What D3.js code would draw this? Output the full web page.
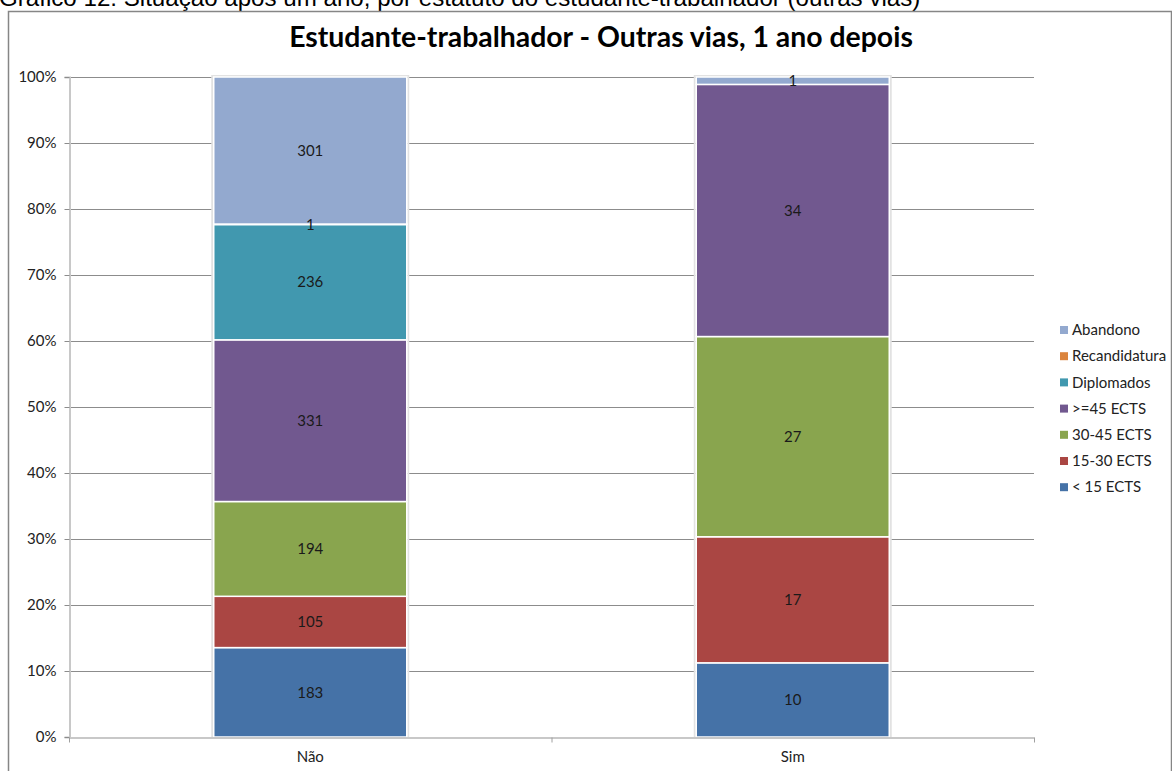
<!DOCTYPE html>
<html>
<head>
<meta charset="utf-8">
<script src="https://cdn.jsdelivr.net/npm/d3@7"></script>
<style>
  html, body { margin: 0; padding: 0; background: #fff; overflow: hidden; }
  svg { display: block; }
</style>
</head>
<body>
<div id="chart"></div>
<script>
// categories (x axis)
var categories = ['Não', 'Sim'];

// series, bottom to top of the stack
var seriesNames = ['< 15 ECTS', '15-30 ECTS', '30-45 ECTS', '>=45 ECTS', 'Diplomados', 'Recandidatura', 'Abandono'];
var seriesColors = ['#4572A7', '#AA4643', '#89A54E', '#71588F', '#4198AF', '#DB843D', '#93A9CF'];

// counts per series, one value per category
var lt15 = [183, 10];
var e15to30 = [105, 17];
var e30to45 = [194, 27];
var ge45 = [331, 34];
var diplomados = [236, 0];
var recandidatura = [1, 0];
var abandono = [301, 1];

var yTicks = [0, 0.1, 0.2, 0.3, 0.4, 0.5, 0.6, 0.7, 0.8, 0.9, 1];

var caption = 'Gráfico 12: Situação após um ano, por estatuto do estudante-trabalhador (outras vias)';
var title = 'Estudante-trabalhador - Outras vias, 1 ano depois';

var W = 1172, H = 771;
var plot = { left: 69, right: 1034, top: 77, bottom: 737 };
var chartFont = 'Lato, Carlito, Calibri, sans-serif';
var fontSize = 15;

var svg = d3.select('#chart').append('svg').attr('width', W).attr('height', H);

// caption above the frame (cut at top edge as in the document)
var cap = svg.append('text')
    .attr('x', -1).attr('y', 6)
    .attr('font-family', 'Liberation Sans, Arial, sans-serif')
    .attr('font-size', 20)
    .attr('fill', '#000')
    .text(caption);
//squeeze the caption to its width in the picture
var capLen = cap.node().getComputedTextLength();
cap.attr('font-size', 20 * 922 / capLen);

// chart frame
svg.append('rect')
    .attr('x', 8.5).attr('y', 11.5)
    .attr('width', W - 9).attr('height', H)
    .attr('fill', '#fff')
    .attr('stroke', '#868686').attr('stroke-width', 1.5);

var t = svg.append('text')
    .attr('x', 601).attr('y', 47)
    .attr('text-anchor', 'middle')
    .attr('font-family', chartFont)
    .attr('font-weight', 'bold')
    .attr('font-size', 22)
    .attr('fill', '#000')
    .text(title);
var tLen = t.node().getComputedTextLength();
t.attr('font-size', 22 * 624 / tLen);

var x = d3.scaleBand().domain(categories).range([plot.left, plot.right]).paddingInner(0).paddingOuter(0);
var y = d3.scaleLinear().domain([0, 1]).range([plot.bottom, plot.top]);
var barW = x.bandwidth() / 2.5;

// gridlines
svg.append('g')
    .selectAll('line')
    .data(yTicks.slice(1))
    .enter().append('line')
        .attr('x1', plot.left).attr('x2', plot.right)
        .attr('y1', function (d) { return Math.round(y(d)) + 0.5; })
        .attr('y2', function (d) { return Math.round(y(d)) + 0.5; })
        .attr('stroke', '#8c8c8c').attr('stroke-width', 1);

// y axis
var yAxis = svg.append('g')
    .attr('transform', 'translate(' + (plot.left + 0.5) + ',0)')
    .call(d3.axisLeft(y).tickValues(yTicks).tickFormat(d3.format('.0%')).tickSize(5).tickPadding(8));
yAxis.attr('font-family', chartFont).attr('font-size', fontSize);
yAxis.select('.domain').attr('stroke', '#c8c8c8').attr('stroke-width', 2);
yAxis.selectAll('.tick line').attr('stroke', '#8c8c8c');
yAxis.selectAll('.tick text').attr('fill', '#222');
yAxis.selectAll('.tick').attr('transform', function (d) { return 'translate(0,' + (Math.round(y(d)) + 0.5) + ')'; });

// stacked data, normalised per category
var seriesValues = [lt15, e15to30, e30to45, ge45, diplomados, recandidatura, abandono];
var rows = categories.map(function (c, ci) {
    var row = { cat: c };
    seriesNames.forEach(function (s, si) { row[s] = seriesValues[si][ci]; });
    return row;
});
var stacked = d3.stack().keys(seriesNames).offset(d3.stackOffsetExpand)(rows);

// faint shadow around each bar
svg.append('g').selectAll('rect')
    .data(categories)
    .enter().append('rect')
        .attr('x', function (d) { return x(d) + x.bandwidth() / 2 - barW / 2 - 1.5; })
        .attr('y', plot.top - 1)
        .attr('width', barW + 3)
        .attr('height', plot.bottom - plot.top + 1)
        .attr('fill', 'none')
        .attr('stroke', '#e2e2e2').attr('stroke-width', 2);

var layers = svg.append('g').selectAll('g')
    .data(stacked)
    .enter().append('g')
        .attr('fill', function (d, i) { return seriesColors[i]; });

layers.selectAll('rect')
    .data(function (d) { return d.map(function (p) { p.key = d.key; return p; }); })
    .enter().append('rect')
        .attr('x', function (d) { return x(d.data.cat) + x.bandwidth() / 2 - barW / 2; })
        .attr('y', function (d) { return y(d[1]); })
        .attr('width', barW)
        .attr('height', function (d) { return y(d[0]) - y(d[1]); })
        .attr('stroke', function (d) { return d.data[d.key] > 0 ? '#fff' : 'none'; })
        .attr('stroke-width', 1.5);

// data labels
var labels = svg.append('g');
stacked.forEach(function (layer) {
    labels.selectAll(null)
        .data(layer.filter(function (p) { return p.data[layer.key] > 0; }))
        .enter().append('text')
            .attr('x', function (d) { return x(d.data.cat) + x.bandwidth() / 2; })
            .attr('y', function (d) { return (y(d[0]) + y(d[1])) / 2; })
            .attr('dy', '0.35em')
            .attr('text-anchor', 'middle')
            .attr('font-family', chartFont)
            .attr('font-size', fontSize)
            .attr('fill', '#1a1a1a')
            .text(function (d) { return d.data[layer.key]; });
});

// x axis
var xAxis = svg.append('g')
    .attr('transform', 'translate(0,' + (plot.bottom + 0.5) + ')')
    .call(d3.axisBottom(x).tickSize(0).tickPadding(14));
xAxis.attr('font-family', chartFont).attr('font-size', fontSize);
xAxis.select('.domain').attr('stroke', '#c8c8c8').attr('stroke-width', 2);
xAxis.selectAll('.tick text').attr('fill', '#222');
// category separators
xAxis.selectAll('.sep')
    .data([plot.left, plot.left + x.bandwidth(), plot.right])
    .enter().append('line')
        .attr('x1', function (d) { return d + 0.5; }).attr('x2', function (d) { return d + 0.5; })
        .attr('y1', 0).attr('y2', 5)
        .attr('stroke', '#a0a0a0');

// legend, top entry is the top of the stack
var legend = svg.append('g').attr('transform', 'translate(1060,330)');
var legendItems = legend.selectAll('g')
    .data(seriesNames.slice().reverse())
    .enter().append('g')
        .attr('transform', function (d, i) { return 'translate(0,' + (i * 26.2) + ')'; });
legendItems.append('rect')
    .attr('x', 0).attr('y', -4)
    .attr('width', 8).attr('height', 8)
    .attr('fill', function (d) { return seriesColors[seriesNames.indexOf(d)]; });
legendItems.append('text')
    .attr('x', 12).attr('y', 0).attr('dy', '0.35em')
    .attr('font-family', chartFont)
    .attr('font-size', fontSize).attr('fill', '#222')
    .text(function (d) { return d; });
</script>
</body>
</html>
